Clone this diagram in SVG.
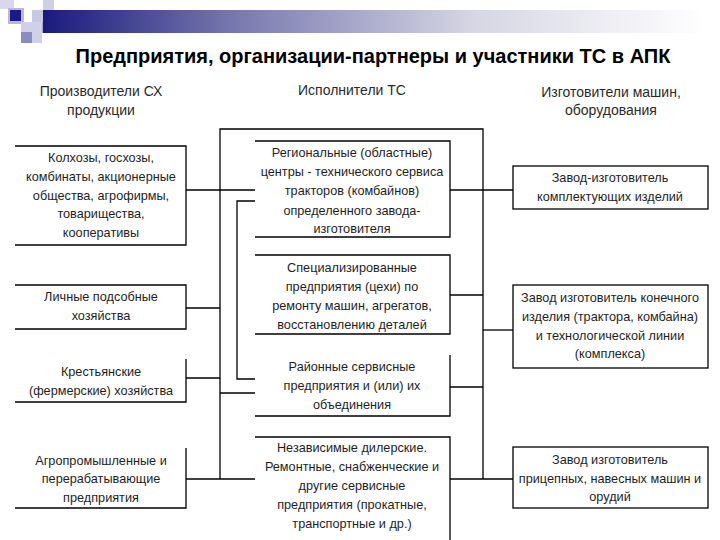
<svg xmlns="http://www.w3.org/2000/svg" width="720" height="540" viewBox="0 0 720 540">
<defs>
<linearGradient id="bar" x1="43" y1="0" x2="705" y2="0" gradientUnits="userSpaceOnUse">
<stop offset="0" stop-color="#1a1a7e"/>
<stop offset="0.3" stop-color="#7b7bb2"/>
<stop offset="0.65" stop-color="#d6d6e4"/>
<stop offset="1" stop-color="#ffffff"/>
</linearGradient>
<style>
.t{font-family:"Liberation Sans",Arial,sans-serif;font-size:12.7px;fill:#1e1e1e;text-anchor:middle}
.h{font-family:"Liberation Sans",Arial,sans-serif;font-size:14px;fill:#2a2a2a;text-anchor:middle}
.ttl{font-family:"Liberation Sans",Arial,sans-serif;font-size:20px;font-weight:bold;fill:#000;text-anchor:middle}
.b{fill:none;stroke:#000;stroke-width:1.3}
.c{fill:none;stroke:#000;stroke-width:1.3}
</style>
</defs>
<rect width="720" height="540" fill="#fff"/>
<g id="decor">
<rect x="43" y="10" width="662" height="23" fill="url(#bar)"/>
<rect x="0" y="0" width="14" height="9" fill="#d8d8ec"/>
<rect x="43" y="0" width="11" height="10" fill="#cfcfe4"/>
<rect x="32" y="10" width="11" height="12" fill="#c8c8e0"/>
<rect x="32" y="22" width="11" height="11" fill="#a8a8d0"/>
<rect x="8" y="8" width="16" height="16" fill="#b8b8dc"/>
<rect x="10" y="10" width="11" height="11" fill="#1a1a8c"/>
<rect x="21" y="22" width="21" height="21" fill="#d0d0e6"/>
<rect x="21" y="32" width="11" height="11" fill="#8c8cc4"/>
</g>
<text class="ttl" x="373" y="63">Предприятия, организации-партнеры и участники ТС в АПК</text>
<g id="headers">
<text class="h" x="101" y="96">Производители СХ</text>
<text class="h" x="101" y="115">продукции</text>
<text class="h" x="352" y="95">Исполнители ТС</text>
<text class="h" x="611" y="97">Изготовители машин,</text>
<text class="h" x="611" y="115">оборудования</text>
</g>
<g id="connectors">
<path class="c" d="M220,479 V129 H483 V479"/>
<path class="c" d="M186,190 H255"/>
<path class="c" d="M186,308 H220"/>
<path class="c" d="M186,378 H220"/>
<path class="c" d="M186,479 H255"/>
<path class="c" d="M220,393 H255"/>
<path class="c" d="M255,201 H237 V379 H255"/>
<path class="c" d="M450,190 H513"/>
<path class="c" d="M450,295 H483"/>
<path class="c" d="M450,387 H483"/>
<path class="c" d="M483,330 H513"/>
<path class="c" d="M450,479 H513"/>
</g>
<g id="L1">
<path class="b" d="M15,146 H186 V245 H15"/>
<text class="t" x="101" y="162">Колхозы, госхозы,</text>
<text class="t" x="101" y="181">комбинаты, акционерные</text>
<text class="t" x="101" y="200">общества, агрофирмы,</text>
<text class="t" x="101" y="218">товарищества,</text>
<text class="t" x="101" y="237">кооперативы</text>
</g>
<g id="L2">
<path class="b" d="M15,285 H186 V329 H15"/>
<text class="t" x="101" y="301">Личные подсобные</text>
<text class="t" x="101" y="320">хозяйства</text>
</g>
<g id="L3">
<path class="b" d="M186,359 V402 H15"/>
<text class="t" x="101" y="376">Крестьянские</text>
<text class="t" x="101" y="395">(фермерские) хозяйства</text>
</g>
<g id="L4">
<path class="b" d="M186,448 V508 H15"/>
<text class="t" x="101" y="465">Агропромышленные и</text>
<text class="t" x="101" y="483">перерабатывающие</text>
<text class="t" x="101" y="502">предприятия</text>
</g>
<g id="M1">
<path class="b" d="M255,141 H450 V237 H255"/>
<text class="t" x="352" y="157">Региональные (областные)</text>
<text class="t" x="352" y="176">центры - технического сервиса</text>
<text class="t" x="352" y="195">тракторов (комбайнов)</text>
<text class="t" x="352" y="215">определенного завода-</text>
<text class="t" x="352" y="233">изготовителя</text>
</g>
<g id="M2">
<path class="b" d="M255,255 H450 V334 H255"/>
<text class="t" x="352" y="272">Специализированные</text>
<text class="t" x="352" y="291">предприятия (цехи) по</text>
<text class="t" x="352" y="310">ремонту машин, агрегатов,</text>
<text class="t" x="352" y="329">восстановлению деталей</text>
</g>
<g id="M3">
<path class="b" d="M450,355 V416 H255"/>
<text class="t" x="352" y="371">Районные сервисные</text>
<text class="t" x="352" y="390">предприятия и (или) их</text>
<text class="t" x="352" y="409">объединения</text>
</g>
<g id="M4">
<path class="b" d="M255,437 H450 V540"/>
<text class="t" x="352" y="452">Независимые дилерские.</text>
<text class="t" x="352" y="471">Ремонтные, снабженческие и</text>
<text class="t" x="352" y="490">другие сервисные</text>
<text class="t" x="352" y="509">предприятия (прокатные,</text>
<text class="t" x="352" y="528">транспортные и др.)</text>
</g>
<g id="R1">
<rect class="b" x="513" y="166" width="195" height="43"/>
<text class="t" x="610" y="182">Завод-изготовитель</text>
<text class="t" x="610" y="201">комплектующих изделий</text>
</g>
<g id="R2">
<rect class="b" x="513" y="285" width="195" height="83"/>
<text class="t" x="610" y="302">Завод изготовитель конечного</text>
<text class="t" x="610" y="321">изделия (трактора, комбайна)</text>
<text class="t" x="610" y="340">и технологической линии</text>
<text class="t" x="610" y="358">(комплекса)</text>
</g>
<g id="R3">
<rect class="b" x="513" y="447" width="195" height="61"/>
<text class="t" x="610" y="464">Завод изготовитель</text>
<text class="t" x="610" y="483">прицепных, навесных машин и</text>
<text class="t" x="610" y="501">орудий</text>
</g>
</svg>
